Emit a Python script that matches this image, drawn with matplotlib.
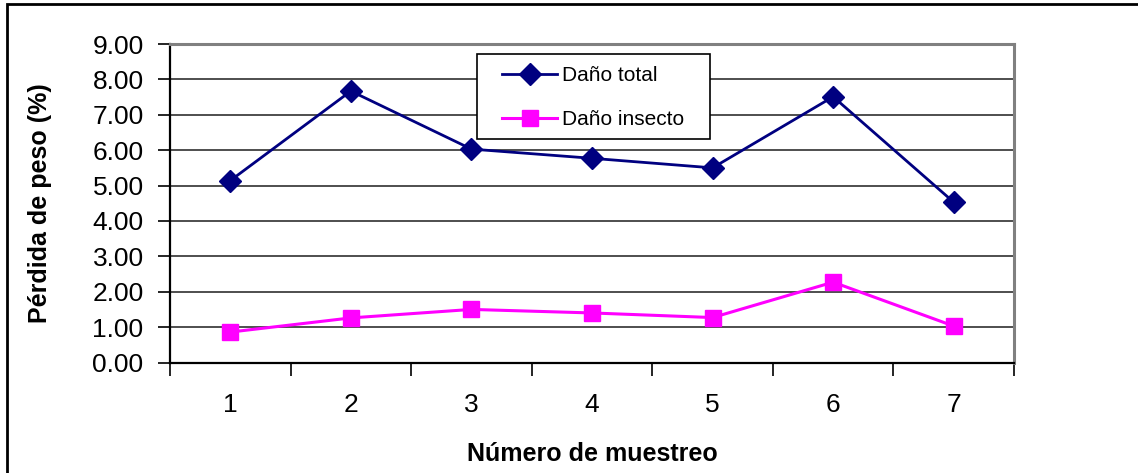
import matplotlib
matplotlib.use("Agg")
import matplotlib.pyplot as plt
from matplotlib.patches import Rectangle
from matplotlib.ticker import FixedLocator

plt.rcParams["font.family"] = ["Liberation Sans", "DejaVu Sans"]

muestreos = ["1", "2", "3", "4", "5", "6", "7"]
dano_total = [5.14, 7.67, 6.03, 5.77, 5.50, 7.51, 4.53]
dano_insecto = [0.86, 1.26, 1.50, 1.40, 1.27, 2.27, 1.03]
y_ticks = list(range(10))

NAVY = "#000080"
MAGENTA = "#FF00FF"

fig = plt.figure(figsize=(11.38, 4.73), dpi=100, facecolor="white")
ax = fig.add_axes([170 / 1138, 1 - 362.5 / 473, 844 / 1138, 318.5 / 473])

x = list(range(len(muestreos)))
ax.plot(x, dano_total, color=NAVY, lw=2, marker="D", ms=11, mfc=NAVY, mec=NAVY,
        label="Daño total", zorder=3)
ax.plot(x, dano_insecto, color=MAGENTA, lw=2.2, marker="s", ms=11, mfc=MAGENTA, mec=MAGENTA,
        label="Daño insecto", zorder=3)

ax.set_xlim(-0.5, len(muestreos) - 0.5)
ax.set_ylim(0, 9)
ax.set_yticks(y_ticks, [f"{v:.2f}" for v in y_ticks])
ax.set_xticks(x, muestreos)
ax.xaxis.set_minor_locator(FixedLocator([i - 0.5 for i in range(len(muestreos) + 1)]))
ax.tick_params(axis="x", which="major", length=0, pad=22, labelsize=19)
ax.tick_params(axis="x", which="minor", length=9, width=1.2, direction="out", color="black")
ax.tick_params(axis="y", length=9, width=1.2, direction="out", pad=10, labelsize=19)

ax.grid(axis="y", color="#404040", linewidth=1.3)
ax.set_axisbelow(True)
for side in ("top", "right"):
    ax.spines[side].set_color("#808080")
    ax.spines[side].set_linewidth(2.2)
for side in ("left", "bottom"):
    ax.spines[side].set_color("black")
    ax.spines[side].set_linewidth(1.6)

ax.set_ylabel("Pérdida de peso (%)", fontsize=18, fontweight="bold", labelpad=29)
ax.set_xlabel("Número de muestreo", fontsize=18, fontweight="bold", labelpad=18)

# legend box drawn by hand so its size matches the fixed Excel box
ax.add_patch(Rectangle((0.3637, 0.7017), 0.276, 0.267, transform=ax.transAxes,
                       facecolor="white", edgecolor="black", linewidth=1.2, zorder=4.5))
leg = ax.legend(loc="upper left", bbox_to_anchor=(0.3934, 0.931), fontsize=15,
                frameon=False, handlelength=2.65, handletextpad=0.25,
                labelspacing=1.2, borderpad=0, borderaxespad=0, numpoints=1)

fig.patches.append(Rectangle((7 / 1138, -0.1), 1.2, 1 - 4 / 473 + 0.1,
                             transform=fig.transFigure, fill=False,
                             edgecolor="black", linewidth=2, zorder=0))

fig.savefig("out.png", dpi=100, facecolor="white")
